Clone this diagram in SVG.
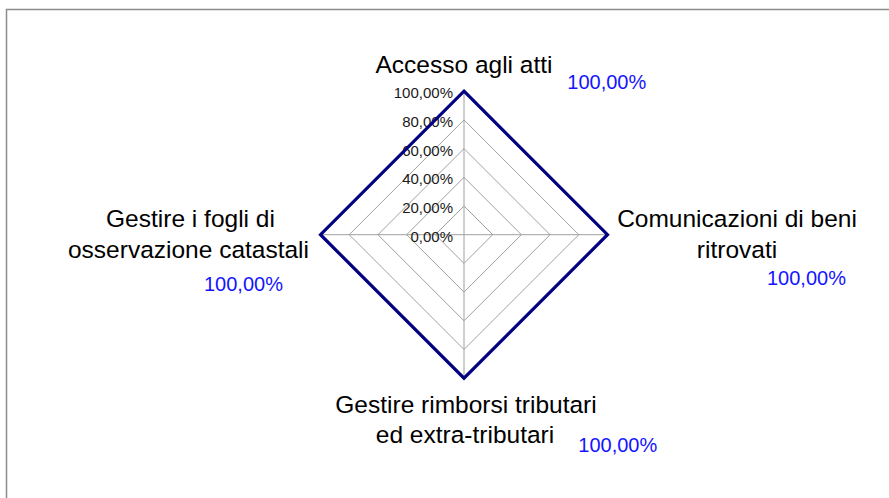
<svg xmlns="http://www.w3.org/2000/svg" width="889" height="498" viewBox="0 0 889 498">
<style>
.lbl{font-family:"Liberation Sans",Arial,sans-serif;font-size:24.5px;fill:#000;text-anchor:middle}
.val{font-family:"Liberation Sans",Arial,sans-serif;font-size:20px;fill:#1414ff}
.tick{font-family:"Liberation Sans",Arial,sans-serif;font-size:15px;fill:#1a1a1a;text-anchor:end}
.grid{fill:none;stroke:#a0a0a0;stroke-width:1}
</style>
<rect x="0" y="0" width="889" height="498" fill="#fff"/>
<rect x="6.5" y="9.5" width="900" height="500" fill="none" stroke="#8c8c8c" stroke-width="1.5"/>
<g id="grid">
<polygon class="grid" points="464,206 492.7,234.7 464,263.4 435.3,234.7"/>
<polygon class="grid" points="464,177.3 521.4,234.7 464,292.1 406.6,234.7"/>
<polygon class="grid" points="464,148.6 550.1,234.7 464,320.8 377.9,234.7"/>
<polygon class="grid" points="464,119.9 578.8,234.7 464,349.5 349.2,234.7"/>
<polygon class="grid" points="464,91.2 607.5,234.7 464,378.2 320.5,234.7"/>
<line class="grid" x1="464" y1="91.2" x2="464" y2="378.2"/>
<line class="grid" x1="320.5" y1="234.7" x2="607.5" y2="234.7"/>
</g>
<g id="ticks">
<text class="tick" x="453" y="98.3">100,00%</text>
<text class="tick" x="453" y="127">80,00%</text>
<text class="tick" x="453" y="155.7">60,00%</text>
<text class="tick" x="453" y="184.4">40,00%</text>
<text class="tick" x="453" y="213.1">20,00%</text>
<text class="tick" x="453" y="241.8">0,00%</text>
</g>
<g id="connectors">
<polygon id="series" points="464,91.2 607.5,234.7 464,378.2 320.5,234.7" fill="none" stroke="#000080" stroke-width="3.2" stroke-linejoin="miter"/>
</g>
<g id="node-accesso">
<text class="lbl" x="464" y="73.3">Accesso agli atti</text>
<text class="val" x="567.3" y="89.3">100,00%</text>
</g>
<g id="node-comunicazioni">
<text class="lbl" x="737" y="226.7">Comunicazioni di beni</text>
<text class="lbl" x="737" y="258.3">ritrovati</text>
<text class="val" x="767" y="285">100,00%</text>
</g>
<g id="node-rimborsi">
<text class="lbl" x="466" y="413.3">Gestire rimborsi tributari</text>
<text class="lbl" x="465" y="443.3">ed extra-tributari</text>
<text class="val" x="578.3" y="451.7">100,00%</text>
</g>
<g id="node-fogli">
<text class="lbl" x="190.5" y="226.7">Gestire i fogli di</text>
<text class="lbl" x="188.5" y="258.3">osservazione catastali</text>
<text class="val" x="204" y="290.7">100,00%</text>
</g>
</svg>
